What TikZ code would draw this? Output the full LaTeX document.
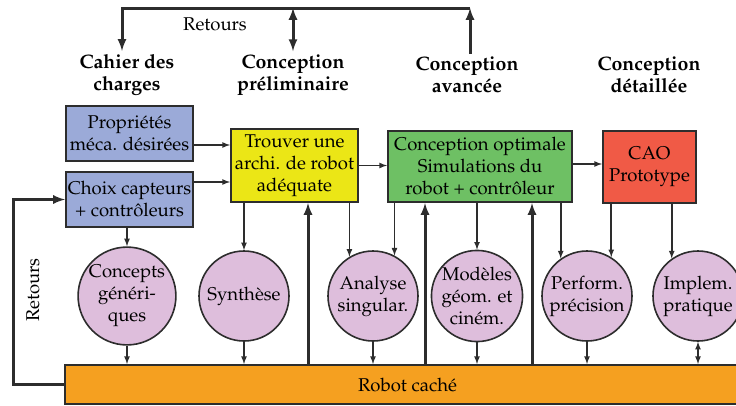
\documentclass[tikz,border=0pt]{standalone}
\usepackage[T1]{fontenc}
\usepackage{mathpazo}
\usetikzlibrary{arrows,positioning}

\definecolor{trait}{RGB}{45,45,45}
\definecolor{bleu}{RGB}{155,170,216}
\definecolor{jaune}{RGB}{235,230,22}
\definecolor{vert}{RGB}{110,192,100}
\definecolor{rouge}{RGB}{240,90,70}
\definecolor{rose}{RGB}{222,190,220}
\definecolor{orangecache}{RGB}{245,160,32}

\begin{document}
\begin{tikzpicture}[x=1pt,y=-1pt,>=latex,
    font=\fontsize{18.5}{22}\selectfont,
    titre/.style={font=\fontsize{19.5}{22}\selectfont\bfseries,align=center},
    boite/.style={draw=trait,line width=2pt,align=center,inner sep=1pt},
    rond/.style={circle,draw=trait,line width=1.6pt,fill=rose,minimum size=90pt,inner sep=0pt,align=center},
    fleche/.style={->,line width=1.6pt,draw=trait},
    gros/.style={line width=3pt,draw=trait},
    retour/.style={line width=3pt,draw=trait}]
    \useasboundingbox (0,0) rectangle (736,405);
    % phases
    \node[titre] (cdc) at (127,75) {Cahier des\\charges};
    \node[titre] (cp) at (293,75) {Conception\\préliminaire};
    \node[titre] (ca) at (467,75) {Conception\\avancée};
    \node[titre] (cd) at (649,75) {Conception\\détaillée};
    % boites
    \node[boite,fill=bleu,minimum width=127pt,minimum height=55pt] (prop) at (129.5,133.5) {Propriétés\\méca. désirées};
    \node[boite,fill=bleu,minimum width=127pt,minimum height=55pt] (choix) at (129.5,199.5) {Choix capteurs\\+ contrôleurs};
    \node[boite,fill=jaune,minimum width=127pt,minimum height=73pt] (archi) at (294.5,165.5) {Trouver une\\archi. de robot\\adéquate};
    \node[boite,fill=vert,minimum width=184pt,minimum height=71pt] (optim) at (480,166.5) {Conception optimale\\Simulations du\\robot + contrôleur};
    \node[boite,fill=rouge,minimum width=93pt,minimum height=72pt] (cao) at (649.5,167) {CAO\\Prototype};
    % outils
    \node[rond] (concepts) at (127,296) {Concepts\\généri-\\ques};
    \node[rond] (synth) at (244,296) {Synthèse};
    \node[rond] (analyse) at (373,296) {Analyse\\singular.};
    \node[rond] (modeles) at (477,296) {Modèles\\géom. et\\ciném.};
    \node[rond] (perf) at (587,296) {Perform.\\précision};
    \node[rond] (implem) at (698,296) {Implem.\\pratique};
    \node[boite,fill=orangecache,minimum width=685pt,minimum height=39pt] (robot) at (407.5,384.5) {Robot caché};

    \draw[fleche] ([yshift=-11.5pt]prop.east) coordinate (a1) -- (a1 -| archi.west);
    \draw[fleche] ([yshift=17.5pt]choix.east) coordinate (a2) -- (a2 -| archi.west);
    \draw[fleche] (archi.east) -- (archi.east -| optim.west);
    \draw[fleche] ([yshift=2.5pt]optim.east) coordinate (a3) -- (a3 -| cao.west);

    \draw[fleche] (choix.south -| concepts.north) -- (concepts.north);
    \draw[fleche] (archi.south -| synth.north) -- (synth.north);
    \draw[fleche] (archi.south -| analyse.121) -- (analyse.121);
    \draw[fleche] (optim.south -| analyse.62) -- (analyse.62);
    \draw[fleche] (optim.south -| modeles.north) -- (modeles.north);
    \draw[fleche] (optim.south -| perf.125) -- (perf.125);
    \draw[fleche] (cao.south -| perf.58) -- (perf.58);
    \draw[fleche] (cao.south -| implem.125) -- (implem.125);

    \foreach \c in {concepts,synth,analyse,modeles,perf}
      \draw[fleche] (\c.south) -- (\c.south |- robot.north);
    \draw[fleche,<->] (implem.south) -- (implem.south |- robot.north);

    \draw[gros,<-] ([xshift=13.5pt]archi.south) coordinate (u1) -- (u1 |- robot.north);
    \draw[gros,<-] ([xshift=-55pt]optim.south) coordinate (u2) -- (u2 |- robot.north);
    \draw[gros,<-] ([xshift=52pt]optim.south) coordinate (u3) -- (u3 |- robot.north);

    % retours
    \coordinate (hg) at (122,8);
    \coordinate (hd) at (470,8);
    \draw[retour,->] (ca.north -| hd) -- (hd);
    \draw[retour,->] (hd) -| (cdc.north -| hg);
    \draw[retour,<->] (cp.north) -- (cp.north |- hd);
    \node (ret1) at (215,24) {Retours};
    \draw[retour,->] (robot.west) -- ++(-51,0) |- (choix.west);
    \node[rotate=90] (ret2) at (33,290) {Retours};
  \end{tikzpicture}
\end{document}
